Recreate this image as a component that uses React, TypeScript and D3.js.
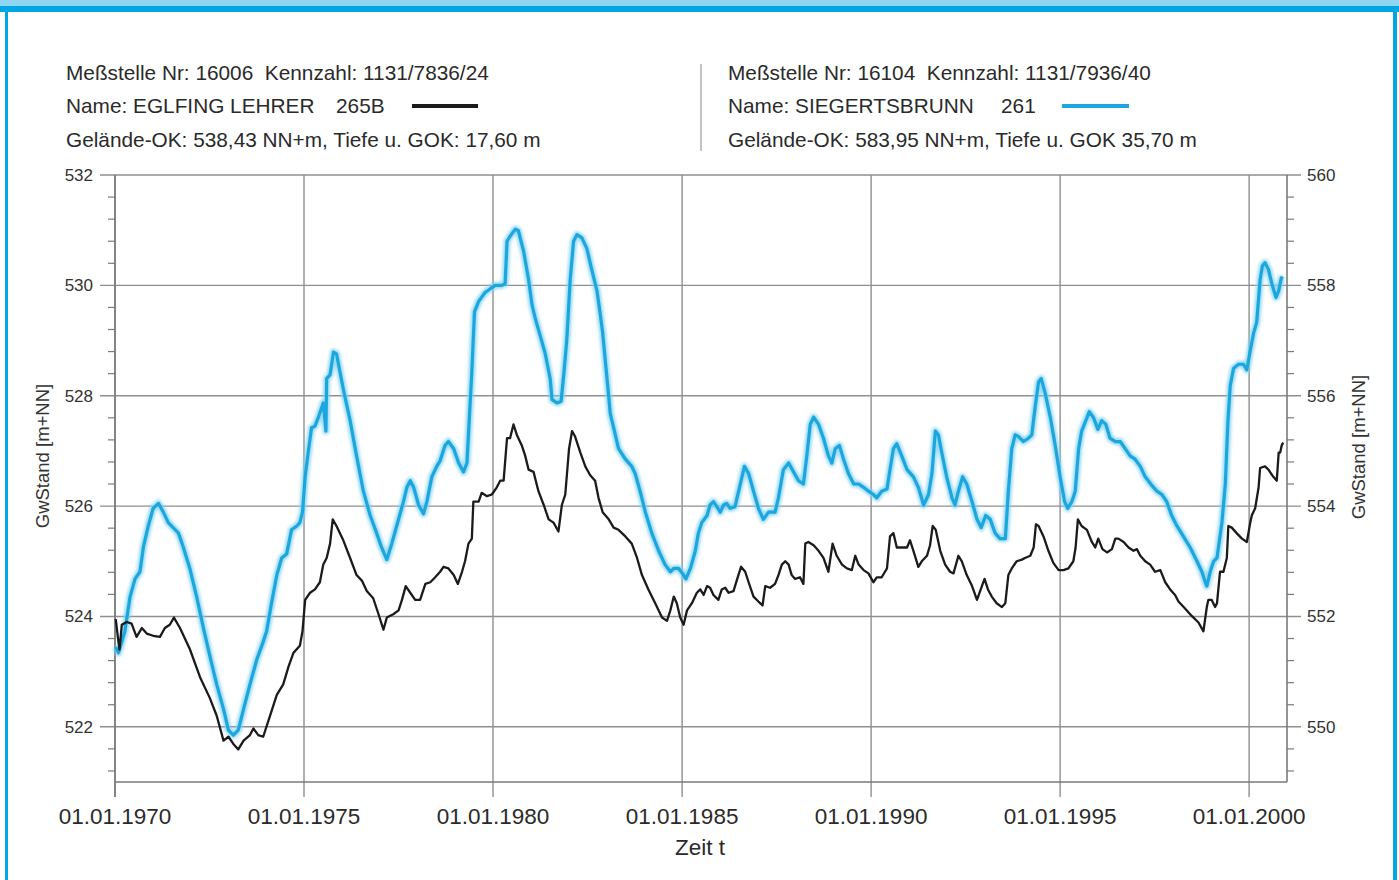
import React from 'react';
import * as d3 from 'd3';

// Meßstelle 16006 EGLFING LEHRER (left axis, m+NN)
const eglingSeries: [number, number][] = [
  [1970.02, 523.95], [1970.08, 523.6], [1970.12, 523.4], [1970.18, 523.85], [1970.31, 523.9],
  [1970.44, 523.87], [1970.57, 523.63], [1970.71, 523.79], [1970.84, 523.69], [1971.01, 523.65],
  [1971.19, 523.63], [1971.32, 523.79], [1971.45, 523.85], [1971.56, 523.98], [1971.72, 523.79],
  [1971.98, 523.41], [1972.25, 522.9], [1972.51, 522.52], [1972.69, 522.2], [1972.87, 521.75],
  [1973.0, 521.82], [1973.13, 521.69], [1973.26, 521.59], [1973.4, 521.75], [1973.57, 521.85],
  [1973.66, 521.97], [1973.79, 521.85], [1973.92, 521.82], [1974.1, 522.2], [1974.28, 522.58],
  [1974.45, 522.77], [1974.59, 523.09], [1974.72, 523.34], [1974.89, 523.47], [1974.96, 523.73],
  [1975.03, 524.3], [1975.16, 524.43], [1975.29, 524.49], [1975.42, 524.62], [1975.51, 524.94],
  [1975.6, 525.06], [1975.69, 525.32], [1975.76, 525.76], [1975.86, 525.64], [1976.04, 525.38],
  [1976.22, 525.06], [1976.39, 524.75], [1976.53, 524.65], [1976.66, 524.46], [1976.83, 524.33],
  [1976.97, 524.04], [1977.1, 523.76], [1977.19, 523.98], [1977.36, 524.04], [1977.5, 524.11],
  [1977.59, 524.3], [1977.69, 524.55], [1977.81, 524.43], [1977.94, 524.3], [1978.07, 524.3],
  [1978.21, 524.59], [1978.34, 524.62], [1978.47, 524.71], [1978.6, 524.81], [1978.69, 524.9],
  [1978.82, 524.87], [1978.96, 524.75], [1979.07, 524.59], [1979.18, 524.81], [1979.26, 525.0],
  [1979.35, 525.32], [1979.44, 525.41], [1979.48, 526.08], [1979.62, 526.08], [1979.7, 526.24],
  [1979.84, 526.18], [1979.97, 526.21], [1980.1, 526.34], [1980.19, 526.46], [1980.28, 526.46],
  [1980.37, 527.23], [1980.45, 527.23], [1980.54, 527.48], [1980.63, 527.29], [1980.76, 527.1],
  [1980.85, 526.91], [1980.94, 526.66], [1981.07, 526.62], [1981.2, 526.27], [1981.34, 526.02],
  [1981.47, 525.76], [1981.6, 525.7], [1981.73, 525.54], [1981.82, 526.02], [1981.91, 526.21],
  [1982.01, 527.04], [1982.09, 527.36], [1982.17, 527.26], [1982.31, 526.97], [1982.44, 526.72],
  [1982.57, 526.56], [1982.7, 526.46], [1982.79, 526.15], [1982.9, 525.89], [1983.06, 525.76],
  [1983.19, 525.61], [1983.32, 525.57], [1983.5, 525.45], [1983.67, 525.32], [1983.81, 525.06],
  [1983.94, 524.75], [1984.11, 524.49], [1984.29, 524.24], [1984.47, 523.98], [1984.6, 523.92],
  [1984.69, 524.11], [1984.78, 524.36], [1984.86, 524.24], [1984.95, 523.98], [1985.04, 523.85],
  [1985.13, 524.11], [1985.26, 524.24], [1985.39, 524.43], [1985.48, 524.49], [1985.57, 524.39],
  [1985.66, 524.55], [1985.74, 524.52], [1985.83, 524.39], [1985.96, 524.3], [1986.05, 524.49],
  [1986.14, 524.52], [1986.23, 524.43], [1986.36, 524.46], [1986.49, 524.75], [1986.56, 524.9],
  [1986.67, 524.81], [1986.76, 524.62], [1986.89, 524.36], [1987.02, 524.27], [1987.13, 524.2],
  [1987.2, 524.55], [1987.33, 524.52], [1987.46, 524.59], [1987.55, 524.75], [1987.64, 524.94],
  [1987.73, 525.0], [1987.82, 524.94], [1987.9, 524.75], [1987.99, 524.68], [1988.12, 524.71],
  [1988.21, 524.59], [1988.26, 525.32], [1988.34, 525.35], [1988.48, 525.29], [1988.61, 525.19],
  [1988.74, 525.06], [1988.87, 524.81], [1988.98, 525.32], [1989.09, 525.1], [1989.23, 524.94],
  [1989.36, 524.87], [1989.49, 524.84], [1989.58, 525.1], [1989.67, 524.94], [1989.8, 524.84],
  [1989.93, 524.78], [1990.06, 524.62], [1990.15, 524.71], [1990.28, 524.71], [1990.42, 524.87],
  [1990.5, 525.45], [1990.59, 525.51], [1990.68, 525.25], [1990.81, 525.25], [1990.95, 525.25],
  [1991.03, 525.38], [1991.12, 525.19], [1991.25, 524.9], [1991.34, 525.0], [1991.48, 525.1],
  [1991.56, 525.29], [1991.63, 525.64], [1991.71, 525.57], [1991.83, 525.19], [1991.96, 524.94],
  [1992.09, 524.81], [1992.18, 524.78], [1992.31, 525.1], [1992.4, 525.0], [1992.53, 524.75],
  [1992.67, 524.55], [1992.8, 524.3], [1992.93, 524.55], [1993.0, 524.68], [1993.09, 524.49],
  [1993.19, 524.36], [1993.32, 524.24], [1993.46, 524.17], [1993.55, 524.24], [1993.63, 524.75],
  [1993.72, 524.87], [1993.85, 525.0], [1993.99, 525.03], [1994.07, 525.06], [1994.21, 525.1],
  [1994.3, 525.25], [1994.36, 525.67], [1994.43, 525.64], [1994.56, 525.45], [1994.69, 525.19],
  [1994.82, 524.97], [1994.96, 524.84], [1995.09, 524.84], [1995.22, 524.87], [1995.35, 525.0],
  [1995.41, 525.25], [1995.47, 525.76], [1995.57, 525.64], [1995.71, 525.57], [1995.84, 525.35],
  [1995.93, 525.25], [1996.01, 525.41], [1996.12, 525.22], [1996.24, 525.16], [1996.37, 525.22],
  [1996.46, 525.41], [1996.54, 525.41], [1996.68, 525.35], [1996.81, 525.25], [1996.94, 525.19],
  [1997.03, 525.22], [1997.12, 525.1], [1997.25, 525.0], [1997.38, 524.94], [1997.51, 524.81],
  [1997.65, 524.84], [1997.78, 524.62], [1997.91, 524.49], [1998.04, 524.39], [1998.13, 524.27],
  [1998.31, 524.14], [1998.48, 524.01], [1998.66, 523.89], [1998.79, 523.73], [1998.88, 524.17],
  [1998.92, 524.3], [1999.01, 524.3], [1999.1, 524.17], [1999.15, 524.24], [1999.23, 524.81],
  [1999.32, 524.81], [1999.41, 525.06], [1999.45, 525.64], [1999.54, 525.61], [1999.67, 525.51],
  [1999.81, 525.41], [1999.94, 525.35], [2000.03, 525.7], [2000.07, 525.83], [2000.16, 525.96],
  [2000.25, 526.34], [2000.29, 526.69], [2000.42, 526.72], [2000.51, 526.66], [2000.64, 526.53],
  [2000.73, 526.46], [2000.78, 526.97], [2000.82, 526.97], [2000.86, 527.1], [2000.9, 527.15],
];

// Meßstelle 16104 SIEGERTSBRUNN (right axis, m+NN)
const siegertsbrunnSeries: [number, number][] = [
  [1970.02, 551.45], [1970.09, 551.34], [1970.18, 551.54], [1970.26, 551.73], [1970.4, 552.36],
  [1970.53, 552.68], [1970.66, 552.81], [1970.75, 553.25], [1970.88, 553.64], [1971.01, 553.96],
  [1971.15, 554.05], [1971.28, 553.89], [1971.41, 553.7], [1971.54, 553.61], [1971.68, 553.51],
  [1971.81, 553.25], [1971.98, 552.87], [1972.16, 552.36], [1972.34, 551.79], [1972.51, 551.28],
  [1972.69, 550.77], [1972.87, 550.32], [1973.0, 549.94], [1973.13, 549.85], [1973.26, 549.94],
  [1973.4, 550.32], [1973.57, 550.77], [1973.75, 551.22], [1973.92, 551.54], [1974.01, 551.73],
  [1974.14, 552.24], [1974.28, 552.75], [1974.41, 553.06], [1974.54, 553.13], [1974.67, 553.57],
  [1974.81, 553.64], [1974.89, 553.7], [1974.96, 553.89], [1975.03, 554.53], [1975.11, 554.97],
  [1975.2, 555.42], [1975.29, 555.45], [1975.38, 555.61], [1975.51, 555.87], [1975.58, 555.36],
  [1975.6, 556.31], [1975.69, 556.38], [1975.78, 556.79], [1975.86, 556.76], [1975.95, 556.44],
  [1976.04, 556.12], [1976.22, 555.55], [1976.39, 554.91], [1976.57, 554.27], [1976.75, 553.83],
  [1976.92, 553.51], [1977.05, 553.25], [1977.19, 553.03], [1977.32, 553.32], [1977.45, 553.64],
  [1977.63, 554.08], [1977.72, 554.34], [1977.81, 554.46], [1977.9, 554.34], [1978.03, 554.02],
  [1978.16, 553.86], [1978.25, 554.08], [1978.38, 554.53], [1978.51, 554.72], [1978.6, 554.82],
  [1978.73, 555.1], [1978.82, 555.17], [1978.96, 555.04], [1979.09, 554.78], [1979.22, 554.62],
  [1979.31, 554.78], [1979.37, 555.55], [1979.44, 556.44], [1979.51, 557.52], [1979.62, 557.71],
  [1979.79, 557.87], [1979.93, 557.94], [1980.06, 558.0], [1980.23, 558.0], [1980.32, 558.03],
  [1980.37, 558.8], [1980.45, 558.89], [1980.59, 559.02], [1980.67, 558.99], [1980.81, 558.61],
  [1980.94, 558.1], [1981.03, 557.65], [1981.12, 557.39], [1981.25, 557.08], [1981.38, 556.76],
  [1981.51, 556.31], [1981.56, 555.93], [1981.69, 555.87], [1981.8, 555.9], [1981.87, 556.38],
  [1981.95, 557.01], [1982.04, 558.1], [1982.13, 558.8], [1982.22, 558.92], [1982.35, 558.86],
  [1982.48, 558.67], [1982.61, 558.29], [1982.75, 557.9], [1982.84, 557.46], [1982.9, 557.14],
  [1982.97, 556.63], [1983.06, 555.99], [1983.1, 555.68], [1983.19, 555.42], [1983.32, 555.04],
  [1983.5, 554.85], [1983.67, 554.72], [1983.76, 554.59], [1983.89, 554.27], [1984.03, 553.89],
  [1984.2, 553.51], [1984.38, 553.19], [1984.55, 552.94], [1984.69, 552.81], [1984.78, 552.87],
  [1984.91, 552.87], [1985.04, 552.75], [1985.1, 552.68], [1985.22, 552.87], [1985.35, 553.19],
  [1985.43, 553.51], [1985.52, 553.7], [1985.66, 553.83], [1985.74, 554.02], [1985.83, 554.08],
  [1985.92, 553.99], [1986.01, 553.89], [1986.1, 554.02], [1986.18, 554.05], [1986.27, 553.96],
  [1986.4, 553.99], [1986.54, 554.4], [1986.65, 554.72], [1986.76, 554.59], [1986.89, 554.27],
  [1987.02, 553.96], [1987.15, 553.76], [1987.29, 553.89], [1987.46, 553.89], [1987.55, 554.15],
  [1987.68, 554.66], [1987.82, 554.78], [1987.95, 554.62], [1988.08, 554.46], [1988.21, 554.4],
  [1988.3, 554.91], [1988.39, 555.48], [1988.48, 555.61], [1988.61, 555.48], [1988.74, 555.23],
  [1988.87, 554.91], [1988.96, 554.78], [1989.05, 555.04], [1989.16, 555.1], [1989.27, 554.85],
  [1989.4, 554.59], [1989.54, 554.4], [1989.67, 554.4], [1989.8, 554.34], [1989.93, 554.27],
  [1990.06, 554.21], [1990.15, 554.15], [1990.28, 554.27], [1990.42, 554.31], [1990.5, 554.66],
  [1990.59, 555.04], [1990.68, 555.13], [1990.81, 554.91], [1990.95, 554.66], [1991.12, 554.53],
  [1991.25, 554.34], [1991.39, 554.02], [1991.52, 554.21], [1991.61, 554.59], [1991.7, 555.36],
  [1991.78, 555.29], [1991.87, 554.97], [1992.0, 554.53], [1992.14, 554.15], [1992.22, 554.02],
  [1992.31, 554.27], [1992.42, 554.53], [1992.53, 554.4], [1992.67, 554.08], [1992.8, 553.76],
  [1992.91, 553.61], [1993.03, 553.83], [1993.15, 553.76], [1993.28, 553.51], [1993.41, 553.41],
  [1993.55, 553.41], [1993.63, 554.27], [1993.72, 555.04], [1993.81, 555.29], [1993.9, 555.26],
  [1994.03, 555.17], [1994.16, 555.23], [1994.25, 555.29], [1994.34, 555.8], [1994.43, 556.25],
  [1994.5, 556.31], [1994.6, 556.06], [1994.74, 555.61], [1994.87, 555.1], [1995.0, 554.53],
  [1995.12, 554.08], [1995.2, 553.96], [1995.31, 554.08], [1995.4, 554.27], [1995.49, 555.04],
  [1995.57, 555.36], [1995.68, 555.55], [1995.77, 555.71], [1995.88, 555.61], [1996.0, 555.39],
  [1996.1, 555.55], [1996.21, 555.48], [1996.32, 555.23], [1996.46, 555.17], [1996.59, 555.17],
  [1996.72, 555.04], [1996.85, 554.91], [1996.98, 554.85], [1997.12, 554.72], [1997.25, 554.53],
  [1997.43, 554.37], [1997.56, 554.27], [1997.69, 554.21], [1997.82, 554.08], [1997.95, 553.83],
  [1998.09, 553.64], [1998.26, 553.45], [1998.44, 553.25], [1998.62, 553.0], [1998.75, 552.81],
  [1998.84, 552.62], [1998.88, 552.55], [1998.97, 552.81], [1999.06, 553.0], [1999.15, 553.06],
  [1999.28, 553.7], [1999.37, 554.4], [1999.44, 555.55], [1999.5, 556.18], [1999.59, 556.5],
  [1999.72, 556.57], [1999.85, 556.57], [1999.94, 556.47], [2000.03, 556.82], [2000.12, 557.14],
  [2000.2, 557.33], [2000.29, 558.1], [2000.35, 558.35], [2000.42, 558.41], [2000.51, 558.29],
  [2000.6, 558.03], [2000.71, 557.78], [2000.78, 557.9], [2000.85, 558.13], [2000.88, 558.16],
];

const leftDomain: [number, number] = [521, 532];
const rightDomain: [number, number] = [549, 560];
const leftMajorTicks = [522, 524, 526, 528, 530, 532];
const rightMajorTicks = [550, 552, 554, 556, 558, 560];
const xTickYears = [1970, 1975, 1980, 1985, 1990, 1995, 2000];
const xTickLabels = ['01.01.1970', '01.01.1975', '01.01.1980', '01.01.1985', '01.01.1990', '01.01.1995', '01.01.2000'];
const timeDomainYears: [number, number] = [1970, 2001];

const leftHeader = [
  'Meßstelle Nr: 16006  Kennzahl: 1131/7836/24',
  'Name: EGLFING LEHRER',
  '265B',
  'Gelände-OK: 538,43 NN+m, Tiefe u. GOK: 17,60 m',
];
const rightHeader = [
  'Meßstelle Nr: 16104  Kennzahl: 1131/7936/40',
  'Name: SIEGERTSBRUNN',
  '261',
  'Gelände-OK: 583,95 NN+m, Tiefe u. GOK 35,70 m',
];
const yAxisTitle = 'GwStand [m+NN]';
const xAxisTitle = 'Zeit t';

const W = 1399;
const H = 880;
const M = { left: 115, right: 1287, top: 175, bottom: 782 };
const BLUE = '#1ba7de';
const BLACK = '#1b1b1b';
const FONT = '"Liberation Sans", Arial, Helvetica, sans-serif';

function toDate(y: number): Date {
  const yr = Math.floor(y);
  const s = Date.UTC(yr, 0, 1);
  const e = Date.UTC(yr + 1, 0, 1);
  return new Date(s + (y - yr) * (e - s));
}

export default function App() {
  const x = d3.scaleUtc().domain(timeDomainYears.map(toDate)).range([M.left, M.right]);
  const yL = d3.scaleLinear().domain(leftDomain).range([M.bottom, M.top]);
  const yR = d3.scaleLinear().domain(rightDomain).range([M.bottom, M.top]);

  const lineL = d3.line<[number, number]>().x((d) => x(toDate(d[0]))).y((d) => yL(d[1]));
  const lineR = d3.line<[number, number]>().x((d) => x(toDate(d[0]))).y((d) => yR(d[1]));

  const minorL = d3.range(0, 28).map((i) => +(leftDomain[1] - i * 0.4).toFixed(1)).filter((v) => v >= leftDomain[0]);
  const minorR = d3.range(0, 28).map((i) => +(rightDomain[1] - i * 0.4).toFixed(1)).filter((v) => v >= rightDomain[0]);

  const gridColor = '#8f8f8f';
  const axisColor = '#7a7a7a';
  const textColor = '#2a2a2a';
  const pre = { whiteSpace: 'pre' as const };

  return (
    <svg
      width={W}
      height={H}
      style={{ position: 'absolute', left: 0, top: 0, background: '#fff' }}
      fontFamily={FONT}
    >
      <defs>
        <filter id="glow" x="-5%" y="-5%" width="110%" height="110%">
          <feGaussianBlur stdDeviation="1.6" />
        </filter>
      </defs>
      <rect x={0} y={0} width={W} height={H} fill="#fff" />
      {/* frame */}
      <rect x={0} y={0} width={W} height={7} fill="#8fd6f3" />
      <rect x={0} y={6} width={W} height={6} fill="#00a6e4" />
      <rect x={5} y={6} width={3} height={H - 6} fill="#00a6e4" />
      <rect x={1393} y={6} width={4} height={H - 6} fill="#00a6e4" />

      {/* headers */}
      <g fill={textColor} fontSize={20.8}>
        <text x={66} y={80} style={pre}>{leftHeader[0]}</text>
        <text x={66} y={113}>{leftHeader[1]}</text>
        <text x={336} y={113}>{leftHeader[2]}</text>
        <text x={66} y={147}>{leftHeader[3]}</text>
        <text x={728} y={80} style={pre}>{rightHeader[0]}</text>
        <text x={728} y={113}>{rightHeader[1]}</text>
        <text x={1001} y={113}>{rightHeader[2]}</text>
        <text x={728} y={147}>{rightHeader[3]}</text>
      </g>
      <line x1={412} x2={478} y1={106} y2={106} stroke={BLACK} strokeWidth={4} />
      <line x1={1062} x2={1129} y1={106} y2={106} stroke="#8fd6f3" strokeWidth={7} filter="url(#glow)" />
      <line x1={1062} x2={1129} y1={106} y2={106} stroke={BLUE} strokeWidth={4} />
      <line x1={701} x2={701} y1={64} y2={151} stroke="#c4c4c4" strokeWidth={2} />

      {/* horizontal grid + major ticks */}
      {leftMajorTicks.map((v) => (
        <line key={'gl' + v} x1={100} x2={1301} y1={yL(v)} y2={yL(v)} stroke={gridColor} strokeWidth={1.4} />
      ))}
      {/* vertical grid + ticks */}
      {xTickYears.map((yr) => (
        <line key={'gv' + yr} x1={x(toDate(yr))} x2={x(toDate(yr))} y1={M.top} y2={797} stroke={gridColor} strokeWidth={1.4} />
      ))}
      {/* minor ticks */}
      {minorL.filter((v) => !leftMajorTicks.includes(v)).map((v) => (
        <line key={'ml' + v} x1={108} x2={M.left} y1={yL(v)} y2={yL(v)} stroke={axisColor} strokeWidth={1.2} />
      ))}
      {minorR.filter((v) => !rightMajorTicks.includes(v)).map((v) => (
        <line key={'mr' + v} x1={M.right} x2={M.right + 7} y1={yR(v)} y2={yR(v)} stroke={axisColor} strokeWidth={1.2} />
      ))}
      {/* axes */}
      <line x1={M.left} x2={M.left} y1={M.top} y2={797} stroke={axisColor} strokeWidth={1.6} />
      <line x1={M.right} x2={M.right} y1={M.top} y2={M.bottom} stroke={axisColor} strokeWidth={1.6} />
      <line x1={M.left} x2={M.right} y1={M.bottom} y2={M.bottom} stroke={axisColor} strokeWidth={1.6} />

      {/* tick labels */}
      <g fill="#333" fontSize={17}>
        {leftMajorTicks.map((v) => (
          <text key={'tl' + v} x={93} y={yL(v)} dy="0.35em" textAnchor="end">{v}</text>
        ))}
        {rightMajorTicks.map((v) => (
          <text key={'tr' + v} x={1307} y={yR(v)} dy="0.35em">{v}</text>
        ))}
      </g>
      <g fill={textColor} fontSize={22.5}>
        {xTickYears.map((yr, i) => (
          <text key={'tx' + yr} x={x(toDate(yr))} y={824} textAnchor="middle">{xTickLabels[i]}</text>
        ))}
        <text x={700} y={855} textAnchor="middle">{xAxisTitle}</text>
      </g>
      <text x={0} y={0} fontSize={18.5} fill="#333" textAnchor="middle" transform="translate(49,456) rotate(-90)">{yAxisTitle}</text>
      <text x={0} y={0} fontSize={18.5} fill="#333" textAnchor="middle" transform="translate(1365,447) rotate(-90)">{yAxisTitle}</text>

      {/* series */}
      <path d={lineR(siegertsbrunnSeries) || ''} fill="none" stroke="#7fd0f0" strokeWidth={7} opacity={0.8} filter="url(#glow)" strokeLinejoin="round" />
      <path d={lineR(siegertsbrunnSeries) || ''} fill="none" stroke={BLUE} strokeWidth={3.2} strokeLinejoin="round" />
      <path d={lineL(eglingSeries) || ''} fill="none" stroke={BLACK} strokeWidth={2.3} strokeLinejoin="round" />
    </svg>
  );
}
